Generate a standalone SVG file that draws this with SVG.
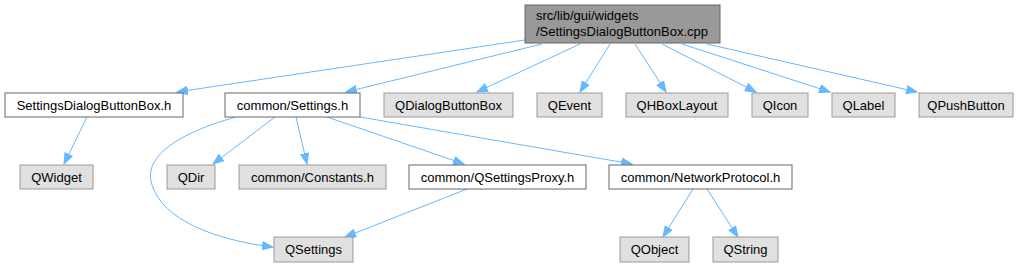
<svg xmlns="http://www.w3.org/2000/svg" width="1026" height="267" viewBox="0 0 1026 267">
<style>
text{font-family:"Liberation Sans",Arial,sans-serif;font-size:13px;fill:#000}
.c{text-anchor:middle}
.g rect{fill:#e0e0e0;stroke:#999999;stroke-width:1}
.w rect{fill:#ffffff;stroke:#666666;stroke-width:1}
.r rect{fill:#999999;stroke:#666666;stroke-width:1}
#edges path{fill:none;stroke:#63b8ff;stroke-width:1;marker-end:url(#ah)}
</style>
<defs>
<marker id="ah" markerUnits="userSpaceOnUse" markerWidth="12" markerHeight="10" refX="11" refY="4.5" orient="auto" viewBox="0 0 12 9">
<path d="M0.5,0.5 L11,4.5 L0.5,8.5 z" fill="#63b8ff" stroke="#63b8ff" stroke-width="1"/>
</marker>
</defs>
<rect width="1026" height="267" fill="#ffffff"/>
<g id="edges">
<path d="M525,40 L177,92"/>
<path d="M542,44 L346,92"/>
<path d="M580,44 L477,92"/>
<path d="M610,44 L580,92"/>
<path d="M635,44 L666,92"/>
<path d="M662,44 L756,92"/>
<path d="M682,44 L830,92"/>
<path d="M707,44 L917,92"/>
<path d="M87,117 L64,164"/>
<path d="M236,117 C189,130 141,153 152,185 C163,220 215,240 273,247"/>
<path d="M275,117 L213,164"/>
<path d="M296,117 L307,164"/>
<path d="M327,117 L464,164"/>
<path d="M360,117 L632,164"/>
<path d="M467,189 L345,237"/>
<path d="M693,189 L663,237"/>
<path d="M707,189 L738,237"/>
</g>
<g id="root" class="r"><rect x="525" y="5" width="195" height="38"/><text x="536" y="20">src/lib/gui/widgets</text><text x="536" y="36">/SettingsDialogButtonBox.cpp</text></g>
<g id="n_sdbbh" class="w"><rect x="5" y="93" width="178" height="24"/><text class="c" x="94" y="109.5">SettingsDialogButtonBox.h</text></g>
<g id="n_settings" class="w"><rect x="225" y="93" width="135" height="24"/><text class="c" x="292.5" y="109.5">common/Settings.h</text></g>
<g id="n_qdbb" class="g"><rect x="384" y="93" width="129" height="24"/><text class="c" x="448.5" y="109.5">QDialogButtonBox</text></g>
<g id="n_qevent" class="g"><rect x="537" y="93" width="65" height="24"/><text class="c" x="569.5" y="109.5">QEvent</text></g>
<g id="n_qhbox" class="g"><rect x="626" y="93" width="102" height="24"/><text class="c" x="677" y="109.5">QHBoxLayout</text></g>
<g id="n_qicon" class="g"><rect x="752" y="93" width="56" height="24"/><text class="c" x="780" y="109.5">QIcon</text></g>
<g id="n_qlabel" class="g"><rect x="832" y="93" width="63" height="24"/><text class="c" x="863.5" y="109.5">QLabel</text></g>
<g id="n_qpush" class="g"><rect x="919" y="93" width="94" height="24"/><text class="c" x="966" y="109.5">QPushButton</text></g>
<g id="n_qwidget" class="g"><rect x="20" y="165" width="73" height="24"/><text class="c" x="56.5" y="181.5">QWidget</text></g>
<g id="n_qdir" class="g"><rect x="167" y="165" width="48" height="24"/><text class="c" x="191" y="181.5">QDir</text></g>
<g id="n_const" class="g"><rect x="239" y="165" width="147" height="24"/><text class="c" x="312.5" y="181.5">common/Constants.h</text></g>
<g id="n_proxy" class="w"><rect x="409" y="165" width="177" height="24"/><text class="c" x="497.5" y="181.5">common/QSettingsProxy.h</text></g>
<g id="n_netproto" class="w"><rect x="609" y="165" width="183" height="24"/><text class="c" x="700.5" y="181.5">common/NetworkProtocol.h</text></g>
<g id="n_qsettings" class="g"><rect x="274" y="237" width="79" height="25"/><text class="c" x="313.5" y="254">QSettings</text></g>
<g id="n_qobject" class="g"><rect x="620" y="237" width="69" height="25"/><text class="c" x="654.5" y="254">QObject</text></g>
<g id="n_qstring" class="g"><rect x="713" y="237" width="65" height="25"/><text class="c" x="745.5" y="254">QString</text></g>
</svg>
